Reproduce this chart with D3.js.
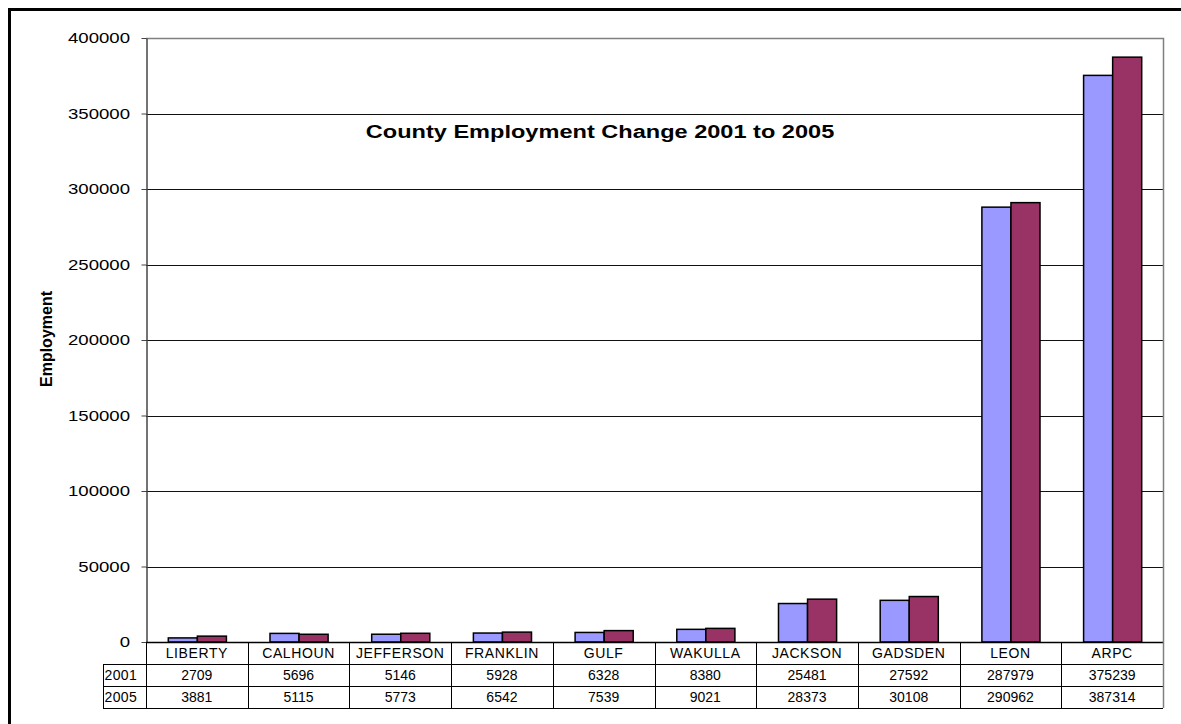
<!DOCTYPE html>
<html>
<head>
<meta charset="utf-8">
<script src="https://cdn.jsdelivr.net/npm/d3@7"></script>
<style>
  body { margin: 0; background: #fff; }
  svg { display: block; font-family: "Liberation Sans", Arial, sans-serif; }
</style>
</head>
<body>
<svg id="chart" width="1181" height="724"></svg>
<script>
// County employment
const counties = ['LIBERTY', 'CALHOUN', 'JEFFERSON', 'FRANKLIN', 'GULF', 'WAKULLA', 'JACKSON', 'GADSDEN', 'LEON', 'ARPC'];
const years = ['2001', '2005'];
const emp2001 = [2709, 5696, 5146, 5928, 6328, 8380, 25481, 27592, 287979, 375239];
const emp2005 = [3881, 5115, 5773, 6542, 7539, 9021, 28373, 30108, 290962, 387314];
const yTicks = [0, 50000, 100000, 150000, 200000, 250000, 300000, 350000, 400000];
const colors = ['#9999ff', '#993366'];

const svg = d3.select('#chart');
const plot = {left: 146, right: 1163, top: 38, bottom: 642};
const rowH = 22;
const stretch = 1.24; // the original chart is squashed wider than its fonts

// outer frame (right/bottom fall off the picture)
svg.append('rect')
    .attr('x', 9.5).attr('y', 9.5)
    .attr('width', 1200).attr('height', 800)
    .attr('fill', 'none').attr('stroke', '#000').attr('stroke-width', 3);

const x = d3.scaleBand()
    .domain(counties)
    .range([plot.left, plot.right])
    .paddingInner(0.4286)  // Excel gap width 150%
    .paddingOuter(0.2143);

const xCat = d3.scaleBand().domain(counties).range([plot.left, plot.right]);

const xSub = d3.scaleBand().domain(years).range([0, x.bandwidth()]);

const y = d3.scaleLinear().domain([0, 400000]).range([plot.bottom, plot.top]);

// gridlines
svg.append('g')
    .selectAll('line')
    .data(yTicks.filter(t => t > 0 && t < 400000))
    .join('line')
    .attr('x1', plot.left).attr('x2', plot.right)
    .attr('y1', d => Math.round(y(d)) + 0.5).attr('y2', d => Math.round(y(d)) + 0.5)
    .attr('stroke', '#111').attr('stroke-width', 1);

// plot area border (top + right)
svg.append('path')
    .attr('d', `M${plot.left},${plot.top + 0.5}H${plot.right + 0.5}V${plot.bottom}`)
    .attr('fill', 'none').attr('stroke', '#808080').attr('stroke-width', 1.5);

// y axis
const yAxis = svg.append('g')
    .attr('transform', `translate(${plot.left + 0.5},0)`)
    .call(d3.axisLeft(y).tickValues(yTicks).tickSize(5).tickSizeOuter(0).tickFormat(d3.format('d')));
yAxis.select('.domain').attr('stroke', '#444').attr('stroke-width', 1.5);
yAxis.selectAll('.tick line').attr('stroke', '#444');
yAxis.selectAll('text')
    .attr('font-size', 15)
    .attr('font-family', '"Liberation Sans", Arial, sans-serif')
    .attr('fill', '#000')
    .attr('x', -16.5 / stretch)
    .attr('transform', `scale(${stretch},1)`);

svg.append('text')
    .attr('transform', `translate(52,339) rotate(-90)`)
    .attr('text-anchor', 'middle')
    .attr('font-size', 16).attr('font-weight', 'bold')
    .text('Employment');

svg.append('text')
    .attr('transform', `translate(600,138) scale(${stretch},1)`)
    .attr('text-anchor', 'middle')
    .attr('font-size', 19).attr('font-weight', 'bold')
    .text('County Employment Change 2001 to 2005');

// bars
const series = [emp2001, emp2005];
const groups = svg.append('g')
    .selectAll('g')
    .data(counties)
    .join('g')
    .attr('transform', d => `translate(${x(d)},0)`);

groups.selectAll('rect')
    .data((d, i) => years.map((yr, k) => ({yr, v: series[k][i], k})))
    .join('rect')
    .attr('x', d => xSub(d.yr) + 0.5)
    .attr('y', d => y(d.v))
    .attr('width', xSub.bandwidth())
    .attr('height', d => y(0) - y(d.v))
    .attr('fill', d => colors[d.k])
    .attr('stroke', '#000').attr('stroke-width', 1.5);

// x axis baseline
svg.append('line')
    .attr('x1', plot.left).attr('x2', plot.right)
    .attr('y1', plot.bottom + 0.5).attr('y2', plot.bottom + 0.5)
    .attr('stroke', '#000').attr('stroke-width', 1.5);

// data table
const tbl = svg.append('g');
const tLeft = 103;
const yRow = i => plot.bottom + rowH * i;

// horizontal rules
tbl.selectAll('line.h')
    .data([1, 2, 3])
    .join('line')
    .attr('class', 'h')
    .attr('x1', tLeft).attr('x2', plot.right)
    .attr('y1', d => yRow(d) + 0.5).attr('y2', d => yRow(d) + 0.5)
    .attr('stroke', '#000');

// vertical rules
tbl.selectAll('line.v')
    .data(counties)
    .join('line')
    .attr('class', 'v')
    .attr('x1', d => Math.round(xCat(d)) + 0.5).attr('x2', d => Math.round(xCat(d)) + 0.5)
    .attr('y1', plot.bottom).attr('y2', yRow(3))
    .attr('stroke', '#000');

tbl.append('line')
    .attr('x1', plot.right + 0.5).attr('x2', plot.right + 0.5)
    .attr('y1', plot.bottom).attr('y2', yRow(3))
    .attr('stroke', '#808080').attr('stroke-width', 1.5);
tbl.append('line')
    .attr('x1', tLeft + 0.5).attr('x2', tLeft + 0.5)
    .attr('y1', yRow(1)).attr('y2', yRow(3))
    .attr('stroke', '#000');

tbl.selectAll('text.cat')
    .data(counties)
    .join('text')
    .attr('class', 'cat')
    .attr('x', d => xCat(d) + xCat.bandwidth() / 2)
    .attr('y', yRow(1) - 6)
    .attr('text-anchor', 'middle')
    .attr('font-size', 14)
    .attr('letter-spacing', 0.6)
    .text(d => d);

years.forEach((yr, k) => {
  tbl.append('text')
      .attr('x', tLeft + 1.5).attr('y', yRow(k + 2) - 6)
      .attr('font-size', 14)
      .attr('letter-spacing', 0.4)
      .text(yr);
  tbl.selectAll('text.v' + yr)
      .data(counties)
      .join('text')
      .attr('class', 'v' + yr)
      .attr('x', d => xCat(d) + xCat.bandwidth() / 2)
      .attr('y', yRow(k + 2) - 6)
      .attr('text-anchor', 'middle')
      .attr('font-size', 14)
      .text((d, i) => series[k][i]);
});
</script>
</body>
</html>
